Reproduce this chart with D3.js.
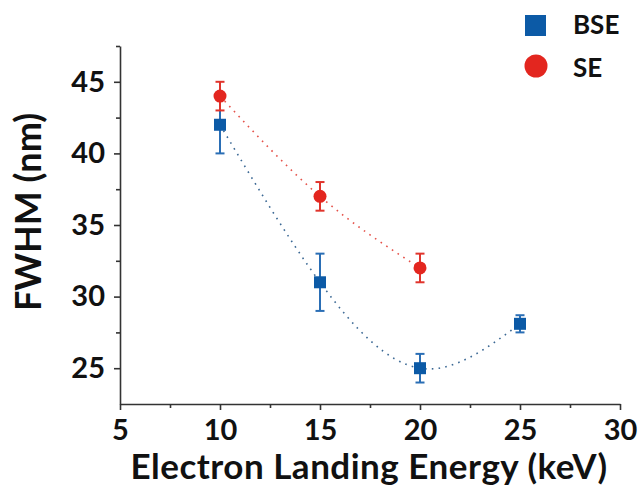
<!DOCTYPE html>
<html>
<head>
<meta charset="utf-8">
<script src="https://cdn.jsdelivr.net/npm/d3@7"></script>
<style>
  body { margin: 0; background: #fff; }
  svg { display: block; }
  svg text { font-family: Lato, "Open Sans", sans-serif; font-weight: 700; fill: #111; }
</style>
</head>
<body>
<script>
// data
var energies = [10, 15, 20, 25];
var bseValues = [42, 31, 25, 28.1];
var bseErrors = [2, 2, 1, 0.6];
var seEnergies = [10, 15, 20];
var seValues = [44, 37, 32];
var seErrors = [1, 1, 1];
var xTicks = [5, 10, 15, 20, 25, 30];
var xMinorTicks = [7.5, 12.5, 17.5, 22.5, 27.5];
var yTicks = [25, 30, 35, 40, 45];
var yMinorTicks = [27.5, 32.5, 37.5, 42.5, 47.5];
var seriesNames = ["BSE", "SE"];

var width = 640, height = 487;
var blue = "#0c5aa6", red = "#e3261f";

var x = d3.scaleLinear().domain([5, 30]).range([120, 620]);
var y = d3.scaleLinear().domain([22.5, 47.5]).range([404, 46]);

var svg = d3.select("body").append("svg")
    .attr("width", width)
    .attr("height", height);

// axes
svg.append("g")
    .attr("transform", "translate(0,404)")
    .call(d3.axisBottom(x).tickValues(xTicks).tickSize(6).tickPadding(9).tickSizeOuter(0));
svg.append("g")
    .attr("transform", "translate(0,404)")
    .call(d3.axisBottom(x).tickValues(xMinorTicks).tickSize(4).tickFormat("").tickSizeOuter(0))
    .select(".domain").remove();

svg.append("g")
    .attr("transform", "translate(120,0)")
    .call(d3.axisLeft(y).tickValues(yTicks).tickSize(6).tickPadding(9).tickSizeOuter(0));
svg.append("g")
    .attr("transform", "translate(120,0)")
    .call(d3.axisLeft(y).tickValues(yMinorTicks).tickSize(4).tickFormat("").tickSizeOuter(0))
    .select(".domain").remove();

svg.selectAll(".domain, .tick line")
    .attr("stroke", "#333")
    .attr("stroke-width", 1.6);
svg.selectAll(".tick text")
    .style("font-size", "29px");

// axis titles
svg.append("text")
    .attr("x", 369)
    .attr("y", 479)
    .attr("text-anchor", "middle")
    .style("font-size", "35px")
    .style("letter-spacing", "0.5px")
    .text("Electron Landing Energy (keV)");

svg.append("text")
    .attr("transform", "translate(41,212) rotate(-90)")
    .attr("text-anchor", "middle")
    .style("font-size", "36px")
    .text("FWHM (nm)");

// dotted guide curves
var line = d3.line()
    .x(function(d) { return x(d[0]); })
    .y(function(d) { return y(d[1]); })
    .curve(d3.curveNatural);

var bsePts = energies.map(function(e, i) { return [e, bseValues[i]]; });
var sePts = seEnergies.map(function(e, i) { return [e, seValues[i]]; });

svg.append("path")
    .datum(bsePts)
    .attr("d", line)
    .attr("fill", "none")
    .attr("stroke", "#3b6894")
    .attr("stroke-width", 1.6)
    .attr("stroke-dasharray", "1.6,5.2");

svg.append("path")
    .datum(sePts)
    .attr("d", line)
    .attr("fill", "none")
    .attr("stroke", "#e5524a")
    .attr("stroke-width", 1.6)
    .attr("stroke-dasharray", "1.6,5.2");

// error bars
function errorBars(xs, vals, errs, color) {
  var g = svg.append("g").attr("stroke", color).attr("stroke-width", 2);
  xs.forEach(function(e, i) {
    var cx = x(e);
    g.append("line")
        .attr("x1", cx).attr("x2", cx)
        .attr("y1", y(vals[i] - errs[i])).attr("y2", y(vals[i] + errs[i]));
    [vals[i] - errs[i], vals[i] + errs[i]].forEach(function(v) {
      g.append("line")
          .attr("x1", cx - 4.5).attr("x2", cx + 4.5)
          .attr("y1", y(v)).attr("y2", y(v));
    });
  });
}
errorBars(energies, bseValues, bseErrors, "#2a6eb5");
errorBars(seEnergies, seValues, seErrors, "#e0342c");

// markers
svg.selectAll(".bse")
    .data(bsePts)
    .enter().append("rect")
      .attr("class", "bse")
      .attr("x", function(d) { return x(d[0]) - 6; })
      .attr("y", function(d) { return y(d[1]) - 6; })
      .attr("width", 12)
      .attr("height", 12)
      .attr("fill", blue);

svg.selectAll(".se")
    .data(sePts)
    .enter().append("circle")
      .attr("class", "se")
      .attr("cx", function(d) { return x(d[0]); })
      .attr("cy", function(d) { return y(d[1]); })
      .attr("r", 6.5)
      .attr("fill", red);

// legend
var legend = svg.append("g");
legend.append("rect")
    .attr("x", 525).attr("y", 15)
    .attr("width", 21).attr("height", 21)
    .attr("fill", blue);
legend.append("circle")
    .attr("cx", 536).attr("cy", 66)
    .attr("r", 11.5)
    .attr("fill", red);
legend.selectAll(".legend-label")
    .data(seriesNames)
    .enter().append("text")
      .attr("class", "legend-label")
      .attr("x", 573)
      .attr("y", function(d, i) { return 34 + i * 43; })
      .style("font-size", "26px")
      .text(function(d) { return d; });
</script>
</body>
</html>
